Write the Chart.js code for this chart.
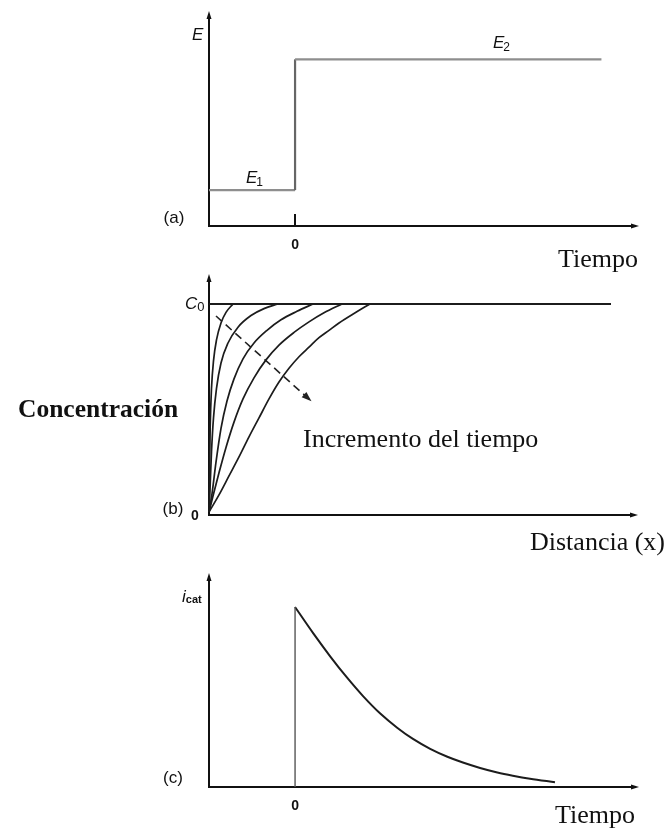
<!DOCTYPE html>
<html>
<head>
<meta charset="utf-8">
<script src="https://cdn.jsdelivr.net/npm/chart.js@4.4.1/dist/chart.umd.min.js"></script>
<style>
  html, body { margin: 0; padding: 0; background: #fff; }
  #page { position: relative; width: 670px; height: 828px; overflow: hidden; background: #fff; }
  .panel { position: absolute; left: 0; }
</style>
</head>
<body>
<div id="page">
  <canvas id="chartA" class="panel" style="top:0px" width="670" height="272"></canvas>
  <canvas id="chartB" class="panel" style="top:272px" width="670" height="290"></canvas>
  <canvas id="chartC" class="panel" style="top:562px" width="670" height="266"></canvas>
</div>
<script>
// ---- (a) potential step: E1 before t = 0, E2 after ----
const stepTime = [-1, 0, 0, 3.56];
const stepPotential = [0.17, 0.17, 0.79, 0.79];
const timeRange = [-1, 3.95];
const potentialMax = 1;

// ---- (b) concentration profiles C(x) at increasing times (C/C0) ----
const profile1Dist = [0, 0.005, 0.012, 0.025, 0.045, 0.075, 0.12, 0.17, 0.24];
const profile1Conc = [0.014, 0.2, 0.42, 0.6, 0.73, 0.83, 0.91, 0.96, 1.0];
const profile2Dist = [0, 0.01, 0.025, 0.045, 0.075, 0.12, 0.19, 0.29, 0.42, 0.55, 0.69];
const profile2Conc = [0.014, 0.12, 0.3, 0.46, 0.6, 0.72, 0.815, 0.89, 0.945, 0.978, 1.0];
const profile3Dist = [0, 0.03, 0.07, 0.12, 0.18, 0.25, 0.34, 0.45, 0.58, 0.72, 0.88, 1.04];
const profile3Conc = [0.014, 0.1, 0.25, 0.41, 0.54, 0.645, 0.74, 0.815, 0.875, 0.925, 0.965, 1.0];
const profile4Dist = [0, 0.04, 0.1, 0.17, 0.25, 0.34, 0.45, 0.57, 0.7, 0.85, 1.0, 1.15, 1.33];
const profile4Conc = [0.014, 0.09, 0.2, 0.32, 0.44, 0.55, 0.65, 0.735, 0.805, 0.865, 0.915, 0.958, 1.0];
const profile5Dist = [0, 0.1, 0.2, 0.3, 0.4, 0.5, 0.6, 0.7, 0.8, 0.9, 1.0, 1.1, 1.2, 1.3, 1.45, 1.61];
const profile5Conc = [0.014, 0.095, 0.185, 0.275, 0.37, 0.46, 0.55, 0.63, 0.695, 0.75, 0.795, 0.84, 0.875, 0.91, 0.955, 1.0];
const bulkDist = [0, 4.02];
const bulkConc = [1, 1];
const timeArrowDist = [0.07, 1.01];
const timeArrowConc = [0.943, 0.545];
const distanceRange = [0, 4.25];
const concMax = 1.123;

// ---- (c) catalytic current after the step ----
const switchTime = [0, 0];
const switchCurrent = [0, 1];
const decayTime = [0, 0.21, 0.41, 0.60, 0.79, 0.99, 1.19, 1.37, 1.57, 1.77, 1.95, 2.15, 2.35, 2.53, 2.73, 3.02];
const decayCurrent = [1.0, 0.855, 0.725, 0.61, 0.505, 0.408, 0.328, 0.267, 0.212, 0.168, 0.136, 0.106, 0.081, 0.063, 0.046, 0.027];
const currentMax = 1.167;

const pts = (xs, ys) => xs.map((x, i) => ({ x, y: ys[i] }));

const INK = '#111';
const SANS = '"Liberation Sans", Arial, sans-serif';
const SERIF = '"Liberation Serif", "Times New Roman", serif';

function line(data, color, width, extra) {
  return Object.assign({
    data, borderColor: color, borderWidth: width, pointRadius: 0,
    fill: false, tension: 0, clip: false, showLine: true
  }, extra || {});
}
const smooth = { cubicInterpolationMode: 'monotone' };

function frame(xr, yMax) {
  const axis = (min, max) => ({
    type: 'linear', min, max,
    grid: { display: false, drawTicks: false },
    border: { display: true, color: INK, width: 2 },
    ticks: { display: false }
  });
  return { x: axis(xr[0], xr[1]), y: axis(0, yMax) };
}

// arrow tips at the ends of both axes
const axisArrows = {
  id: 'axisArrows',
  afterDraw(chart) {
    const { ctx, chartArea: { left, right, top, bottom } } = chart;
    ctx.save();
    ctx.fillStyle = INK;
    ctx.beginPath();
    ctx.moveTo(left, top - 4); ctx.lineTo(left - 2.5, top + 4); ctx.lineTo(left + 2.5, top + 4);
    ctx.closePath(); ctx.fill();
    ctx.beginPath();
    ctx.moveTo(right + 4, bottom); ctx.lineTo(right - 4, bottom - 2.5); ctx.lineTo(right - 4, bottom + 2.5);
    ctx.closePath(); ctx.fill();
    ctx.restore();
  }
};

// free text, axis symbols with subscripts, zero tick and the time arrow head
const panelText = {
  id: 'panelText',
  afterDraw(chart, args, opts) {
    const { ctx } = chart;
    const sx = chart.scales.x, sy = chart.scales.y;
    ctx.save();
    if (opts.zeroTick) {
      const px = Math.round(sx.getPixelForValue(0));
      ctx.strokeStyle = INK; ctx.lineWidth = 2;
      ctx.beginPath(); ctx.moveTo(px, sy.bottom - 12); ctx.lineTo(px, sy.bottom); ctx.stroke();
    }
    if (opts.arrowDataset !== undefined) {
      const meta = chart.getDatasetMeta(opts.arrowDataset);
      const a = meta.data[0], b = meta.data[meta.data.length - 1];
      const ang = Math.atan2(b.y - a.y, b.x - a.x);
      ctx.fillStyle = '#222';
      ctx.translate(b.x, b.y); ctx.rotate(ang);
      ctx.beginPath(); ctx.moveTo(2, 0); ctx.lineTo(-8, -3.5); ctx.lineTo(-8, 3.5); ctx.closePath(); ctx.fill();
      ctx.setTransform(1, 0, 0, 1, 0, 0);
    }
    for (const it of opts.items || []) {
      const x = typeof it.x === 'function' ? it.x(sx, sy) : it.x;
      const y = typeof it.y === 'function' ? it.y(sx, sy) : it.y;
      ctx.fillStyle = it.color || INK;
      ctx.font = it.font;
      ctx.textAlign = it.align || 'left';
      ctx.textBaseline = it.baseline || 'alphabetic';
      ctx.fillText(it.text, x, y);
      if (it.sub) {
        const w = ctx.measureText(it.text).width;
        ctx.font = it.subFont;
        ctx.textAlign = 'left';
        ctx.fillText(it.sub, x + w + (it.subDx || 0), y + (it.subDy || 0));
      }
    }
    ctx.restore();
  }
};

function baseOptions(pad, xr, yMax, textOpts) {
  return {
    responsive: false,
    animation: false,
    events: [],
    layout: { padding: pad, autoPadding: false },
    scales: frame(xr, yMax),
    plugins: {
      legend: { display: false },
      tooltip: { enabled: false },
      panelText: textOpts
    }
  };
}

const symFont = `italic 17px ${SANS}`;
const subFont = `12px ${SANS}`;
const tagFont = `17px ${SANS}`;
const tickFont = `bold 14px ${SANS}`;
const wordFont = `26px ${SERIF}`;

// (a)
new Chart(document.getElementById('chartA'), {
  type: 'scatter',
  data: {
    datasets: [line(pts(stepTime, stepPotential), '#8e8e8e', 2.2, {
      segment: { borderColor: (c) => (c.p0.parsed.x === c.p1.parsed.x ? '#666' : '#8e8e8e') }
    })]
  },
  options: baseOptions({ left: 209, right: 35, top: 15, bottom: 46 }, timeRange, potentialMax, {
    zeroTick: true,
    items: [
      { text: 'E', x: 192, y: 40, font: symFont },
      { text: 'E', x: 493, y: 48, font: symFont, sub: '2', subFont, subDx: -1, subDy: 3 },
      { text: 'E', x: 246, y: 183, font: symFont, sub: '1', subFont, subDx: -1, subDy: 3 },
      { text: '(a)', x: 174, y: 218, font: tagFont, align: 'center', baseline: 'middle' },
      { text: '0', x: (sx) => sx.getPixelForValue(0), y: 245, font: tickFont, align: 'center', baseline: 'middle' },
      { text: 'Tiempo', x: 558, y: 267, font: wordFont }
    ]
  }),
  plugins: [axisArrows, panelText]
});

// (b)
const dark = '#1c1c1c';
new Chart(document.getElementById('chartB'), {
  type: 'scatter',
  data: {
    datasets: [
      line(pts(bulkDist, bulkConc), dark, 2),
      line(pts(profile1Dist, profile1Conc), dark, 1.7, smooth),
      line(pts(profile2Dist, profile2Conc), dark, 1.7, smooth),
      line(pts(profile3Dist, profile3Conc), dark, 1.7, smooth),
      line(pts(profile4Dist, profile4Conc), dark, 1.7, smooth),
      line(pts(profile5Dist, profile5Conc), dark, 1.7, smooth),
      line(pts(timeArrowDist, timeArrowConc), '#222', 1.6, { borderDash: [8, 5] })
    ]
  },
  options: baseOptions({ left: 209, right: 36, top: 6, bottom: 47 }, distanceRange, concMax, {
    arrowDataset: 6,
    items: [
      { text: 'C', x: 185, y: (sx, sy) => sy.getPixelForValue(1) + 5, font: symFont, sub: '0', subFont: `13px ${SANS}`, subDx: 0, subDy: 2 },
      { text: '0', x: 195, y: (sx, sy) => sy.getPixelForValue(0) + 1, font: tickFont, align: 'center', baseline: 'middle' },
      { text: '(b)', x: 173, y: 237, font: tagFont, align: 'center', baseline: 'middle' },
      { text: 'Concentración', x: 18, y: 145, font: `bold 25.5px ${SERIF}` },
      { text: 'Incremento del tiempo', x: 303, y: 175, font: wordFont },
      { text: 'Distancia (x)', x: 530, y: 278, font: wordFont }
    ]
  }),
  plugins: [axisArrows, panelText]
});

// (c)
new Chart(document.getElementById('chartC'), {
  type: 'scatter',
  data: {
    datasets: [
      line(pts(switchTime, switchCurrent), '#555', 1.4),
      line(pts(decayTime, decayCurrent), dark, 2, smooth)
    ]
  },
  options: baseOptions({ left: 209, right: 35, top: 15, bottom: 41 }, timeRange, currentMax, {
    items: [
      { text: 'i', x: 182, y: 40, font: symFont, sub: 'cat', subFont: `bold 11px ${SANS}`, subDx: 0, subDy: 1 },
      { text: '(c)', x: 173, y: 216, font: tagFont, align: 'center', baseline: 'middle' },
      { text: '0', x: (sx) => sx.getPixelForValue(0), y: 244, font: tickFont, align: 'center', baseline: 'middle' },
      { text: 'Tiempo', x: 555, y: 261, font: wordFont }
    ]
  }),
  plugins: [axisArrows, panelText]
});
</script>
</body>
</html>
